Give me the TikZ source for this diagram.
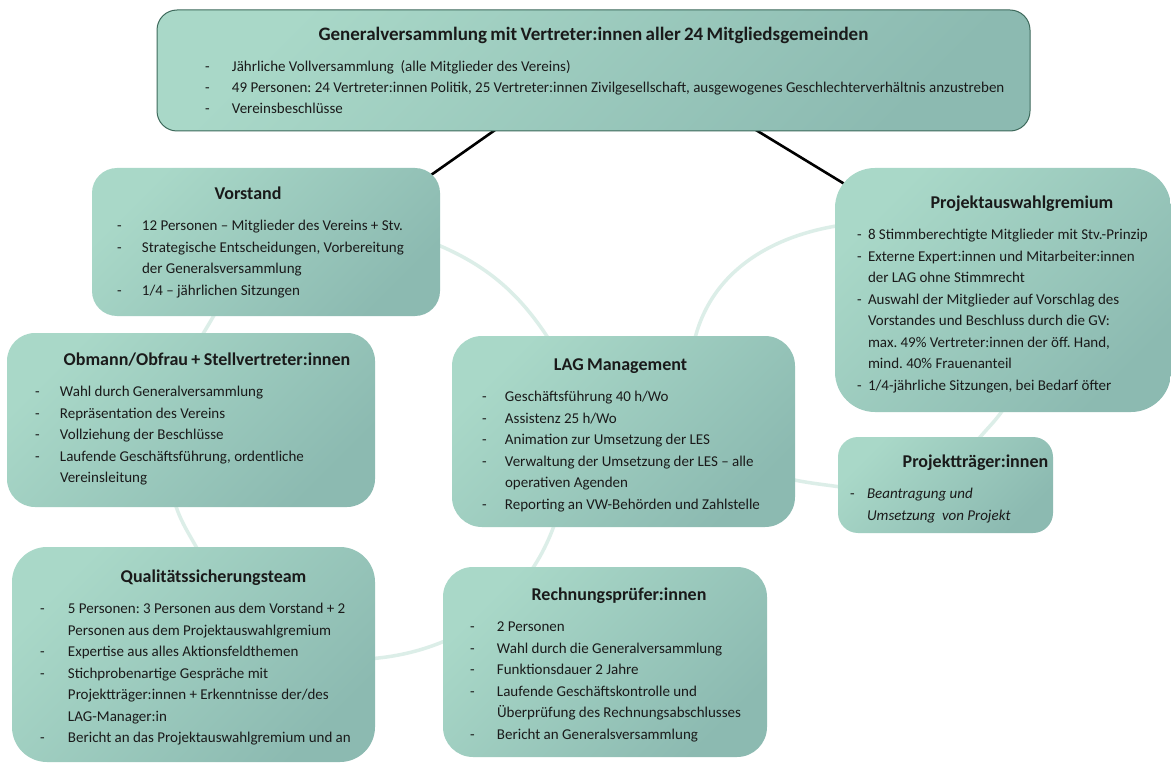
\documentclass[tikz,border=0pt]{standalone}
\usepackage{fontspec}
\setmainfont{Carlito}
\frenchspacing
\usetikzlibrary{calc,backgrounds}
\definecolor{boxlight}{HTML}{A9D8C8}
\definecolor{boxdark}{HTML}{8CBAB1}
\definecolor{arcc}{HTML}{DCEEE8}
\definecolor{txt}{HTML}{1A1A1A}
\definecolor{gvline}{HTML}{3E6A5C}
% #1 top pad, #2 title shift (x2), #3 title, #4 dash column width, #5 rows
\newcommand\boxbody[5]{\makebox[\linewidth][c]{\rule{0pt}{\dimexpr14pt+#1\relax}\hspace*{#2}\fontsize{18}{22}\selectfont\bfseries #3}\par\vspace{9.5pt}%
\fontsize{15}{21.5}\selectfont\begin{tabular}[t]{@{}p{#4}@{}l@{}}#5\end{tabular}\par}
\tikzset{
  box/.style={shape=rectangle, rounded corners=#1, top color=boxlight, bottom color=boxdark,
    shading angle=45, align=left, text=txt, inner ysep=0pt},
  conn/.style={line width=2.6pt, black},
  softarc/.style={line width=3.5pt, arcc},
}
\begin{document}
\begin{tikzpicture}[x=1pt,y=-1pt]
\useasboundingbox (0,0) rectangle (1171,765);

\node[box=20pt, draw=gvline, line width=1pt, text width=777pt, inner xsep=48pt,
      minimum height=121pt] (gv) at (593.5,70.5)
 {\makebox[\linewidth][c]{\rule{0pt}{20pt}\fontsize{19}{22}\selectfont\bfseries Generalversammlung mit Vertreter:innen aller 24 Mitgliedsgemeinden}\par\vspace{10pt}%
  \fontsize{15}{21}\selectfont\begin{tabular}[t]{@{}p{27pt}@{}l@{}}
  - & Jährliche Vollversammlung\ \ (alle Mitglieder des Vereins)\\
  - & 49 Personen: 24 Vertreter:innen Politik, 25 Vertreter:innen Zivilgesellschaft, ausgewogenes Geschlechterverhältnis anzustreben\\
  - & Vereinsbeschlüsse
  \end{tabular}\par};

\node[box=25pt, text width=298pt, inner xsep=25pt, minimum height=148pt] (vor) at (266,242)
 {\boxbody{3pt}{-36pt}{Vorstand}{25pt}{
  - & 12 Personen – Mitglieder des Vereins + Stv.\\
  - & Strategische Entscheidungen, Vorbereitung\\
    & der Generalsversammlung\\
  - & 1/4 – jährlichen Sitzungen}};

\node[box=40pt, text width=292pt, inner xsep=22pt, minimum height=244pt] (pag) at (1003,290)
 {\boxbody{11pt}{38pt}{Projektauswahlgremium}{11pt}{
  - & 8 Stimmberechtigte Mitglieder mit Stv.-Prinzip\\
  - & Externe Expert:innen und Mitarbeiter:innen\\
    & der LAG ohne Stimmrecht\\
  - & Auswahl der Mitglieder auf Vorschlag des\\
    & Vorstandes und Beschluss durch die GV:\\
    & max. 49\% Vertreter:innen der öff. Hand,\\
    & mind. 40\% Frauenanteil\\
  - & 1/4-jährliche Sitzungen, bei Bedarf öfter}};

\node[box=28pt, text width=312pt, inner xsep=28pt, minimum height=174pt] (obm) at (191,420)
 {\boxbody{1pt}{32pt}{Obmann/Obfrau + Stellvertreter:innen}{25pt}{
  - & Wahl durch Generalversammlung\\
  - & Repräsentation des Vereins\\
  - & Vollziehung der Beschlüsse\\
  - & Laufende Geschäftsführung, ordentliche\\
    & Vereinsleitung}};

\node[box=30pt, text width=283pt, inner xsep=30pt, minimum height=191pt] (lag) at (623.5,431.5)
 {\boxbody{9pt}{-6pt}{LAG Management}{23pt}{
  - & Geschäftsführung 40 h/Wo\\
  - & Assistenz 25 h/Wo\\
  - & Animation zur Umsetzung der LES\\
  - & Verwaltung der Umsetzung der LES – alle\\
    & operativen Agenden\\
  - & Reporting an VW-Behörden und Zahlstelle}};

\node[box=20pt, text width=191pt, inner xsep=12pt, minimum height=96pt] (ptr) at (945.5,485)
 {\boxbody{10pt}{60pt}{Projektträger:innen}{17pt}{
  - & \itshape Beantragung und\\
    & \itshape Umsetzung\ \ von Projekt}};

\node[box=35pt, text width=307pt, inner xsep=28pt, minimum height=215pt] (qst) at (193.5,654.5)
 {\boxbody{9pt}{40pt}{Qualitätssicherungsteam}{28pt}{
  - & 5 Personen: 3 Personen aus dem Vorstand + 2\\
    & Personen aus dem Projektauswahlgremium\\
  - & Expertise aus alles Aktionsfeldthemen\\
  - & Stichprobenartige Gespräche mit\\
    & Projektträger:innen + Erkenntnisse der/des\\
    & LAG-Manager:in\\
  - & Bericht an das Projektauswahlgremium und an}};

\node[box=30pt, text width=270pt, inner xsep=27pt, minimum height=190pt] (rpr) at (605,662)
 {\boxbody{8pt}{28pt}{Rechnungsprüfer:innen}{27pt}{
  - & 2 Personen\\
  - & Wahl durch die Generalversammlung\\
  - & Funktionsdauer 2 Jahre\\
  - & Laufende Geschäftskontrolle und\\
    & Überprüfung des Rechnungsabschlusses\\
  - & Bericht an Generalsversammlung}};

\begin{scope}[on background layer]
  \fill[white] (0,0) rectangle (1171,765);
  % soft circular relations
  \draw[softarc] ($(vor.east)+(-20,-4)$) to[out=-20,in=120] ($(lag.north)+(-62,24)$);
  \draw[softarc] ($(pag.west)+(25,-67)$) to[out=185,in=80] ($(lag.north)+(69,14)$);
  \draw[softarc] ($(vor.south)+(-41,-21)$) to[out=-118,in=58] ($(obm.north)+(-1,22)$);
  \draw[softarc] ($(obm.south)+(-19,-17)$) to[out=-80,in=115] ($(qst.north)+(12,18)$);
  \draw[softarc] ($(qst.east)+(-25,5)$) to[out=0,in=-103] ($(lag.south)+(-62,-27)$);
  \draw[softarc] ($(lag.east)+(-20,44)$) to[out=-15,in=170] ($(ptr.west)+(22,5)$);
  \draw[softarc] ($(pag.south)+(7,-15)$) to[out=-115,in=60] ($(ptr.north)+(22,18)$);
  % hierarchy lines
  \draw[conn] ($(gv.south west)+(345,-6)$) -- ($(vor.north east)+(-16,12)$);
  \draw[conn] ($(gv.south west)+(592,-6)$) -- ($(pag.north west)+(16,20)$);
\end{scope}
\end{tikzpicture}
\end{document}
